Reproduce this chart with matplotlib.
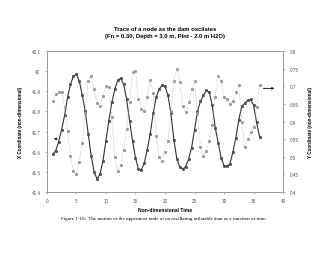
import matplotlib
matplotlib.use("Agg")
import matplotlib.pyplot as plt
import numpy as np

plt.rcParams["font.family"] = ["Liberation Sans", "DejaVu Sans"]

# tid (ikke-dimensjonal), steg 0.5
tid = np.arange(1.0, 36.01, 0.5)

x_koord = [
    41.587, 41.605, 41.65, 41.71, 41.78, 41.87, 41.935, 41.975, 41.985, 41.95,
    41.88, 41.80, 41.69, 41.58, 41.50, 41.465, 41.49, 41.555, 41.655, 41.755,
    41.845, 41.91, 41.955, 41.965, 41.935, 41.86, 41.755, 41.655, 41.57, 41.515,
    41.51, 41.545, 41.61, 41.69, 41.79, 41.87, 41.91, 41.93, 41.925, 41.88,
    41.79, 41.66, 41.565, 41.525, 41.514, 41.526, 41.565, 41.62, 41.71, 41.80,
    41.85, 41.88, 41.905, 41.895, 41.83, 41.72, 41.645, 41.57, 41.53, 41.527,
    41.54, 41.60, 41.67, 41.76, 41.825, 41.84, 41.855, 41.86, 41.83, 41.747,
    41.675,
]

y_koord = [
    0.659, 0.678, 0.683, 0.685, 0.64, 0.572, 0.503, 0.459, 0.452, 0.485,
    0.54, 0.625, 0.715, 0.73, 0.692, 0.652, 0.645, 0.673, 0.70, 0.697,
    0.612, 0.50, 0.459, 0.477, 0.52, 0.579, 0.654, 0.74, 0.742, 0.664,
    0.635, 0.629, 0.669, 0.719, 0.68, 0.56, 0.498, 0.489, 0.514, 0.546,
    0.63, 0.716, 0.749, 0.711, 0.645, 0.628, 0.654, 0.692, 0.716, 0.62,
    0.527, 0.503, 0.517, 0.546, 0.59, 0.67, 0.73, 0.716, 0.669, 0.664,
    0.65, 0.659, 0.683, 0.704, 0.60, 0.527, 0.55, 0.569, 0.584, 0.64,
    0.704,
]

venstre_ticks = [41.4, 41.5, 41.6, 41.7, 41.8, 41.9, 42.0, 42.1]
venstre_etiketter = ["41.4", "41.5", "41.6", "41.7", "41.8", "41.9", "42", "42.1"]
hoyre_ticks = [0.4, 0.45, 0.5, 0.55, 0.6, 0.65, 0.7, 0.75, 0.8]
hoyre_etiketter = ["0.4", "0.45", "0.5", "0.55", "0.6", "0.65", "0.7", "0.75", "0.8"]
x_ticks = [0, 5, 10, 15, 20, 25, 30, 35, 40]

# piler som viser hvilken akse hver kurve tilhører
pil_venstre = ((2.2, 41.664), (0.7, 41.664))
pil_hoyre = ((36.2, 0.694), (39.0, 0.694))


def main():
    fig = plt.figure(figsize=(3.3, 2.55), dpi=100)
    ax = fig.add_axes([0.142, 0.243, 0.716, 0.553])
    ax2 = ax.twinx()

    ax.plot(tid, x_koord, "-", color="#333333", lw=0.8,
            marker="o", ms=1.8, mfc="#555555", mec="#444444", mew=0.4)
    ax2.plot(tid, y_koord, ":", color="#b5b5b5", lw=0.6,
             marker="s", ms=1.1, mfc="#999999", mec="#999999")

    ax.set_xlim(0, 40)
    ax.set_ylim(41.4, 42.1)
    ax2.set_ylim(0.4, 0.8)
    ax.set_xticks(x_ticks)
    ax.set_yticks(venstre_ticks)
    ax.set_yticklabels(venstre_etiketter)
    ax2.set_yticks(hoyre_ticks)
    ax2.set_yticklabels(hoyre_etiketter)

    for a in (ax, ax2):
        for s in a.spines.values():
            s.set_color("#999999")
            s.set_linewidth(0.6)
        a.tick_params(labelsize=3.3, length=1.5, width=0.5, pad=3,
                      color="#999999", labelcolor="#555555")

    ax.annotate("", xy=pil_venstre[1], xytext=pil_venstre[0],
                arrowprops=dict(arrowstyle="-|>", color="#222222", lw=0.7,
                                mutation_scale=3))
    ax2.annotate("", xy=pil_hoyre[1], xytext=pil_hoyre[0],
                 arrowprops=dict(arrowstyle="-|>", color="#222222", lw=0.7,
                                 mutation_scale=3))

    ax.set_xlabel("Non-dimensional Time", fontsize=3.6, fontweight="bold",
                  labelpad=3)
    ax.set_ylabel("X Coordinate (non-dimensional)", fontsize=3.3,
                  fontweight="bold", labelpad=6)
    ax2.set_ylabel("Y Coordinate (non-dimensional)", fontsize=3.3,
                   fontweight="bold", labelpad=7)

    fig.text(0.5, 0.885, "Trace of a node as the dam oscilates",
             ha="center", va="center", fontsize=4.2, fontweight="bold")
    fig.text(0.5, 0.858, "(Fn = 0.30, Depth = 3.0 m, Pint - 2.0 m H2O)",
             ha="center", va="center", fontsize=4.2, fontweight="bold")
    fig.text(0.495, 0.142,
             "Figure 1-10:  The motion of the uppermost node of an oscillating "
             "inflatable dam as a function of time.",
             ha="center", va="center", fontsize=3.6,
             family=["Liberation Serif", "DejaVu Serif"])

    fig.savefig("out.png", dpi=100, facecolor="white")


if __name__ == "__main__":
    main()
